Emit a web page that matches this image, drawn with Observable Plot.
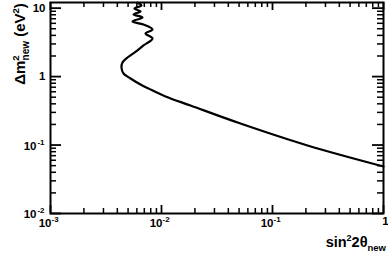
<!DOCTYPE html>
<html>
<head>
<meta charset="utf-8">
<script src="https://cdn.jsdelivr.net/npm/d3@7"></script>
<script src="https://cdn.jsdelivr.net/npm/@observablehq/plot@0.6"></script>
<style>
  html, body { margin: 0; padding: 0; background: #fff; }
  #chart { width: 388px; height: 255px; }
</style>
</head>
<body>
<div id="chart"></div>
<script>
// Exclusion contour: sin^2(2theta_new) vs Delta m^2_new (eV^2)
const sin2theta = [0.00608, 0.00660, 0.00571, 0.00647, 0.00560, 0.00674, 0.00548, 0.00688,
  0.00830, 0.00718, 0.00830, 0.00688, 0.00608, 0.00494, 0.00445, 0.00436, 0.00455, 0.00526,
  0.00647, 0.00764, 0.01087, 0.01825, 0.05148, 0.2067, 1.0];
const dm2 = [12.0, 10.94, 9.89, 8.94, 8.08, 7.30, 6.38, 5.77,
  4.88, 4.26, 3.60, 2.85, 2.41, 1.90, 1.61, 1.36, 1.11, 0.938,
  0.767, 0.670, 0.512, 0.378, 0.206, 0.0985, 0.0486];

// Axis ticks
const xMajor = [0.001, 0.01, 0.1, 1];
const xMinor = [0.002, 0.003, 0.004, 0.005, 0.006, 0.007, 0.008, 0.009,
  0.02, 0.03, 0.04, 0.05, 0.06, 0.07, 0.08, 0.09,
  0.2, 0.3, 0.4, 0.5, 0.6, 0.7, 0.8, 0.9];
const yMajor = [0.01, 0.1, 1, 10];
const yMinor = [0.02, 0.03, 0.04, 0.05, 0.06, 0.07, 0.08, 0.09,
  0.2, 0.3, 0.4, 0.5, 0.6, 0.7, 0.8, 0.9,
  2, 3, 4, 5, 6, 7, 8, 9];

// Tick labels (base + exponent)
const xExpTicks = [0.001, 0.01, 0.1];
const xExpBase = ["10", "10", "10"];
const xExpPow = ["-3", "-2", "-1"];
const xPlainTicks = [1];
const xPlainText = ["1"];
const yExpTicks = [0.01, 0.1];
const yExpBase = ["10", "10"];
const yExpPow = ["-2", "-1"];
const yPlainTicks = [1, 10];
const yPlainText = ["1", "10"];

const curve = sin2theta.map((x, i) => ({x, y: dm2[i]}));
const xExp = xExpTicks.map((v, i) => ({v, base: xExpBase[i], pow: xExpPow[i]}));
const xPlain = xPlainTicks.map((v, i) => ({v, t: xPlainText[i]}));
const yExp = yExpTicks.map((v, i) => ({v, base: yExpBase[i], pow: yExpPow[i]}));
const yPlain = yPlainTicks.map((v, i) => ({v, t: yPlainText[i]}));

const W = 388, Hh = 255;
const mL = 50, mR = 5, mT = 2, mB = 42;
const fw = W - mL - mR, fh = Hh - mT - mB;
const font = "Liberation Sans, Arial, Helvetica, sans-serif";

const chart = Plot.plot({
  width: W,
  height: Hh,
  marginLeft: mL,
  marginRight: mR,
  marginTop: mT,
  marginBottom: mB,
  style: {fontFamily: font, background: "white", color: "black", overflow: "visible"},
  x: {type: "log", domain: [0.001, 1], axis: null},
  y: {type: "log", domain: [0.01, 12.09], axis: null},
  marks: [
    // ticks inside the frame
    Plot.tickX(xMinor, {x: d => d, insetTop: fh - 5, stroke: "black", strokeWidth: 1.5}),
    Plot.tickX(xMinor, {x: d => d, insetBottom: fh - 5, stroke: "black", strokeWidth: 1.5}),
    Plot.tickX(xMajor, {x: d => d, insetTop: fh - 8, stroke: "black", strokeWidth: 1.8}),
    Plot.tickX(xMajor, {x: d => d, insetBottom: fh - 8, stroke: "black", strokeWidth: 1.8}),
    Plot.tickY(yMinor, {y: d => d, insetRight: fw - 6, stroke: "black", strokeWidth: 1.5}),
    Plot.tickY(yMinor, {y: d => d, insetLeft: fw - 6, stroke: "black", strokeWidth: 1.5}),
    Plot.tickY(yMajor, {y: d => d, insetRight: fw - 11, stroke: "black", strokeWidth: 1.8}),
    Plot.tickY(yMajor, {y: d => d, insetLeft: fw - 11, stroke: "black", strokeWidth: 1.8}),
    // curve
    Plot.line(curve, {x: "x", y: "y", stroke: "black", strokeWidth: 2.2, strokeLinejoin: "round",
      curve: "catmull-rom"}),
    Plot.frame({stroke: "black", strokeWidth: 2}),
    // x tick labels
    Plot.text(xExp, {x: "v", text: "base", frameAnchor: "bottom", textAnchor: "end", dx: 1, dy: 13,
      fontSize: 11.5, fontWeight: "bold", fill: "black"}),
    Plot.text(xExp, {x: "v", text: "pow", frameAnchor: "bottom", textAnchor: "start", dx: 1, dy: 8,
      fontSize: 8, fontWeight: "bold", fill: "black"}),
    Plot.text(xPlain, {x: "v", text: "t", frameAnchor: "bottom", textAnchor: "middle", dx: 2, dy: 11,
      fontSize: 11.5, fontWeight: "bold", fill: "black"}),
    // y tick labels
    Plot.text(yExp, {y: "v", text: "base", frameAnchor: "left", textAnchor: "end", dx: -14, dy: 1,
      fontSize: 11.5, fontWeight: "bold", fill: "black"}),
    Plot.text(yExp, {y: "v", text: "pow", frameAnchor: "left", textAnchor: "end", dx: -6, dy: -3,
      fontSize: 8, fontWeight: "bold", fill: "black"}),
    Plot.text(yPlain, {y: "v", text: "t", frameAnchor: "left", textAnchor: "end", dx: -5, dy: 0,
      fontSize: 11.5, fontWeight: "bold", fill: "black"})
  ]
});

// Axis titles with super/subscripts
const svg = d3.select(chart);
const xt = svg.append("text")
  .attr("x", 386).attr("y", 247)
  .attr("text-anchor", "end")
  .attr("font-family", font).attr("font-weight", "bold").attr("font-size", 14.5).attr("fill", "black");
xt.append("tspan").text("sin");
xt.append("tspan").attr("dy", -6).attr("font-size", 9).text("2");
xt.append("tspan").attr("dy", 6).text("2θ");
xt.append("tspan").attr("dy", 4).attr("font-size", 9.5).text("new");

const yt = svg.append("text")
  .attr("transform", "translate(25,44) rotate(-90)")
  .attr("text-anchor", "middle")
  .attr("font-family", font).attr("font-weight", "bold").attr("font-size", 15).attr("fill", "black");
yt.append("tspan").text("Δm");
yt.append("tspan").attr("dy", -6).attr("font-size", 9.5).text("2");
yt.append("tspan").attr("dx", -5).attr("dy", 10).attr("font-size", 10).text("new");
yt.append("tspan").attr("dy", -4).text(" (eV");
yt.append("tspan").attr("dy", -6).attr("font-size", 9.5).text("2");
yt.append("tspan").attr("dy", 6).text(")");

document.getElementById("chart").appendChild(chart);
</script>
</body>
</html>
